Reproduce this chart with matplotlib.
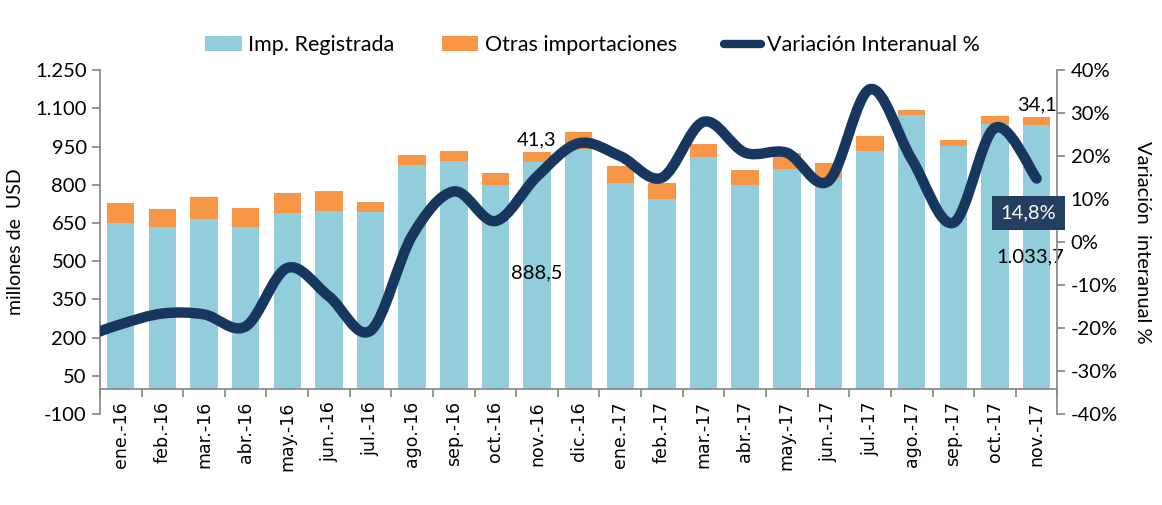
import numpy as np
import matplotlib
matplotlib.use('Agg')
import matplotlib.pyplot as plt
from matplotlib.path import Path
from matplotlib.patches import PathPatch, Patch
from matplotlib.lines import Line2D
from matplotlib.ticker import FuncFormatter, FixedLocator

plt.rcParams['font.family'] = ['Lato', 'DejaVu Sans']

meses = ['ene.-16', 'feb.-16', 'mar.-16', 'abr.-16', 'may.-16', 'jun.-16', 'jul.-16',
         'ago.-16', 'sep.-16', 'oct.-16', 'nov.-16', 'dic.-16', 'ene.-17', 'feb.-17',
         'mar.-17', 'abr.-17', 'may.-17', 'jun.-17', 'jul.-17', 'ago.-17', 'sep.-17',
         'oct.-17', 'nov.-17']
registrada = [650, 634, 665, 634, 690, 698, 694, 879, 892, 800, 888.5, 942, 808, 746,
              910, 798, 863, 826, 932, 1073, 953, 1040, 1033.7]
otras = [78, 70, 88, 75, 77, 78, 40, 39, 42, 48, 41.3, 66, 65, 62,
         52, 62, 60, 60, 61, 22, 22, 31, 34.1]
# variacion interanual (%), first value is dic.-15 (only visible at the left edge)
variacion_prev = -22.5
variacion = [-19.1, -16.6, -16.8, -19.6, -6.0, -12.6, -20.6, 1.5, 11.8, 4.9, 15.3,
             23.0, 20.0, 15.0, 28.0, 20.8, 20.8, 14.2, 35.6, 19.3, 4.5, 26.6, 14.8]

azul = '#92CDDC'
naranja = '#F79646'
navy = '#17375E'
gris = '#8C8C8C'

fig = plt.figure(figsize=(11.62, 5.05), dpi=100)
ax = fig.add_axes([0.086, 0.180, 0.824, 0.681])
x = np.arange(len(meses))
ax.bar(x, registrada, width=0.66, color=azul, zorder=2)
ax.bar(x, otras, width=0.66, bottom=registrada, color=naranja, zorder=2)
ax.set_xlim(-0.5, len(meses) - 0.5)
ax.set_ylim(-100, 1250)
ax.set_yticks(np.arange(-100, 1251, 150))
ax.yaxis.set_major_formatter(FuncFormatter(lambda v, p: f'{int(v):,}'.replace(',', '.')))
ax.spines['top'].set_visible(False)
ax.spines['right'].set_visible(False)
ax.spines['bottom'].set_position(('data', 0))
for s in ['left', 'bottom']:
    ax.spines[s].set_color(gris)
    ax.spines[s].set_linewidth(1.3)
ax.tick_params(axis='y', colors=gris, labelcolor='black', labelsize=14.5, length=6, width=1.3)
ax.set_xticks(x)
ax.set_xticklabels(meses, rotation=90, fontsize=12.5, family='DejaVu Sans')
ax.tick_params(axis='x', which='major', length=0, pad=9)
ax.xaxis.set_minor_locator(FixedLocator(np.arange(-0.5, len(meses), 1)))
ax.tick_params(axis='x', which='minor', length=6, width=1.3, colors=gris)
ax.set_ylabel('millones de  USD', fontsize=14, labelpad=8)

ax2 = ax.twinx()
ax2.set_ylim(-40, 40)
ax2.set_yticks(np.arange(-40, 41, 10))
ax2.yaxis.set_major_formatter(FuncFormatter(lambda v, p: f'{int(v)}%'))
for s in ['top', 'left', 'bottom']:
    ax2.spines[s].set_visible(False)
ax2.spines['right'].set_color(gris)
ax2.spines['right'].set_linewidth(1.3)
ax2.tick_params(axis='y', colors=gris, labelcolor='black', labelsize=14.5, length=6, width=1.3)
ax2.set_ylabel('Variación  interanual %', fontsize=14.5, rotation=270, labelpad=24)

# smoothed line (Catmull-Rom style Bezier, as Excel does)
px = np.concatenate([[-1], x]).astype(float)
py = np.array([variacion_prev] + variacion, dtype=float)
pts = np.column_stack([px, py])
verts = [pts[0]]
codes = [Path.MOVETO]
n = len(pts)
for i in range(n - 1):
    p0 = pts[max(i - 1, 0)]
    p1 = pts[i]
    p2 = pts[i + 1]
    p3 = pts[min(i + 2, n - 1)]
    c1 = p1 + (p2 - p0) / 6
    c2 = p2 - (p3 - p1) / 6
    verts += [c1, c2, p2]
    codes += [Path.CURVE4] * 3
linea = PathPatch(Path(verts, codes), facecolor='none', edgecolor=navy, lw=7.5,
                  capstyle='round', joinstyle='round', zorder=3)
ax2.add_patch(linea)

# data labels
ax.text(10, registrada[10] + otras[10] + 12, '41,3', ha='center', va='bottom', fontsize=14.5)
ax.text(10, 455, '888,5', ha='center', va='center', fontsize=14.5)
ax.text(22, registrada[22] + otras[22] + 12, '34,1', ha='center', va='bottom', fontsize=14.5)
ax.text(21.85, 517, '1.033,7', ha='center', va='center', fontsize=14.5)
ax2.text(21.8, 6.8, '14,8%', ha='center', va='center', fontsize=14.5, color='white', zorder=5,
         bbox=dict(boxstyle='square,pad=0.42', facecolor='#243F60', edgecolor='none'))

handles = [Patch(facecolor=azul), Patch(facecolor=naranja),
           Line2D([0], [0], color=navy, lw=6, solid_capstyle='round')]
fig.legend(handles, ['Imp. Registrada', 'Otras importaciones', 'Variación Interanual %'],
           loc='center', bbox_to_anchor=(0.51, 0.91), ncol=3, frameon=False, fontsize=15.5,
           handlelength=1.7, handleheight=0.7, handletextpad=0.3, columnspacing=2.2)

fig.savefig('out.png', dpi=100)
